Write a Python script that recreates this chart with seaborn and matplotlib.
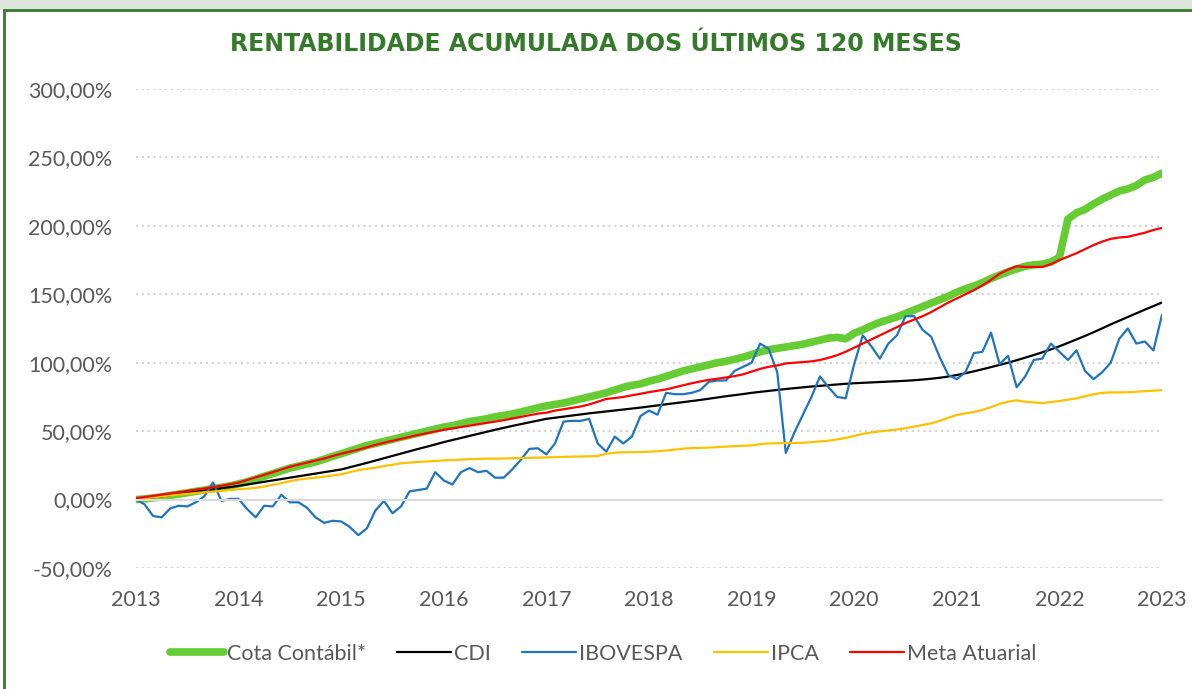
# Rentabilidade acumulada dos ultimos 120 meses

import numpy as np
import pandas as pd
import matplotlib
matplotlib.use("Agg")
import matplotlib.pyplot as plt
import seaborn as sns
from matplotlib.patches import Rectangle
from matplotlib.ticker import FuncFormatter

# --- dados (% acumulado, mensal jan/2013 .. jan/2023) ---
anos = [2013, 2014, 2015, 2016, 2017, 2018, 2019, 2020, 2021, 2022, 2023]
y_ticks = [-50, 0, 50, 100, 150, 200, 250, 300]

cota_contabil = [
    0, 0.5, 1.2, 2.0, 3.0, 4.0, 5.0, 6.0, 7.0, 8.0, 9.0, 10.0,
    11.5, 13.0, 15.0, 17.0, 19.0, 21.0, 23.0, 24.5, 26.0, 27.5, 29.5, 31.5,
    33.5, 35.5, 37.5, 39.5, 41.0, 42.5, 44.0, 45.5, 47.0, 48.5, 50.0, 51.5,
    53.0, 54.0, 55.5, 57.0, 58.0, 59.0, 60.5, 61.5, 62.5, 64.0, 65.5, 67.0,
    68.5, 69.5, 70.5, 72.0, 73.5, 75.0, 76.5, 78.0, 80.0, 82.0, 83.5, 84.5,
    86.5, 88.0, 90.0, 92.0, 94.0, 95.5, 97.0, 98.5, 100.0, 101.0, 102.5, 104.0,
    106.0, 108.0, 109.5, 110.5, 111.5, 112.5, 113.5, 115.0, 116.5, 118.0, 118.5, 117.5,
    121.5, 124.0, 127.0, 129.5, 131.5, 133.5, 136.0, 138.5, 141.0, 143.5, 146.0, 148.5,
    151.5, 154.0, 156.0, 158.5, 161.5, 164.0, 166.5, 168.5, 170.5, 171.5, 172.0, 173.5,
    177.0, 205.0, 209.5, 212.0, 216.0, 219.5, 222.5, 225.5, 227.0, 229.5, 233.5, 235.5,
    238.5,
]

cdi = [
    0, 0.8, 1.6, 2.4, 3.2, 4.1, 5.0, 5.8, 6.6, 7.4, 8.3, 9.1,
    10.0, 11.0, 12.0, 13.0, 14.0, 15.0, 16.0, 17.0, 18.0, 19.0, 20.0, 21.0,
    22.0, 23.6, 25.2, 26.8, 28.5, 30.2, 31.9, 33.6, 35.3, 37.0, 38.6, 40.3,
    42.0, 43.5, 45.0, 46.5, 48.0, 49.5, 51.0, 52.4, 53.8, 55.1, 56.4, 57.7,
    59.0, 59.8, 60.6, 61.4, 62.2, 63.0, 63.7, 64.4, 65.1, 65.8, 66.5, 67.2,
    68.0, 68.8, 69.6, 70.4, 71.2, 72.0, 72.8, 73.7, 74.6, 75.5, 76.3, 77.1,
    78.0, 78.7, 79.4, 80.1, 80.8, 81.4, 82.0, 82.6, 83.1, 83.6, 84.1, 84.6,
    85.0, 85.3, 85.6, 85.9, 86.2, 86.5, 86.8, 87.2, 87.7, 88.3, 89.0, 89.9,
    91.0, 92.3, 93.7, 95.2, 96.8, 98.4, 100.0, 101.8, 103.7, 105.6, 107.6, 109.7,
    112.0, 114.5, 117.0, 119.6, 122.3, 125.1, 128.0, 130.7, 133.4, 136.1, 138.8, 141.4,
    144.0,
]

ibovespa = [
    0, -3.5, -12, -13, -6.5, -4.5, -5, -2, 2.5, 12.5, -1, 0.5,
    0.5, -7, -13, -4.5, -5, 3.5, -2, -2, -6, -13, -17, -15.5,
    -16, -20, -26, -21, -8, -1, -10, -5, 6, 7, 8, 20,
    14, 11, 20, 23, 20, 21, 16, 16, 22, 29, 37, 37.5,
    33, 41, 57, 57.5, 57.5, 59, 41, 35, 46, 41, 46, 61,
    65, 62, 78, 77, 77, 78, 80, 86, 87, 87, 94, 97,
    100, 114, 110, 93, 34, 49, 62, 75, 90, 82, 75, 74,
    99, 120, 112, 103, 114, 120, 134, 134, 124, 119, 104, 91,
    88, 93, 107, 108, 122, 99, 105, 82, 90, 102, 103, 114,
    108, 102, 109, 94, 88, 93, 100, 117.5, 125, 114, 115.5, 109,
    135,
]

ipca = [
    0.0, 0.8, 1.6, 2.3, 3.0, 3.6, 4.2, 4.8, 5.3, 5.8, 6.3, 7.0,
    7.5, 8.0, 8.5, 9.5, 10.8, 12.0, 13.5, 14.6, 15.4, 16.0, 16.8, 17.6,
    18.5, 20.0, 21.5, 22.5, 23.3, 24.5, 25.5, 26.5, 27.0, 27.5, 27.8, 28.2,
    28.6, 28.9, 29.2, 29.5, 29.7, 29.9, 29.9, 30.0, 30.2, 30.4, 30.5, 30.6,
    30.8, 31.0, 31.2, 31.4, 31.5, 31.6, 31.8, 33.5, 34.3, 34.5, 34.6, 34.7,
    35.0, 35.3, 35.8, 36.5, 37.2, 37.6, 37.8, 38.0, 38.3, 38.7, 39.0, 39.3,
    39.6, 40.5, 41.0, 41.2, 41.3, 41.4, 41.5, 42.0, 42.5, 43.0, 44.0, 45.0,
    46.5, 48.0, 49.0, 49.8, 50.5, 51.2, 52.2, 53.3, 54.5, 55.7, 57.5, 59.8,
    61.8, 63.0, 64.0, 65.5, 67.5, 70.0, 71.5, 72.5, 71.5, 71.0, 70.5, 71.2,
    72.0, 73.0, 74.0, 75.5, 77.0, 78.0, 78.3, 78.3, 78.4, 78.8, 79.2, 79.6,
    80.0,
]

meta_atuarial = [
    1.0, 1.8, 2.7, 3.6, 4.5, 5.4, 6.3, 7.2, 8.1, 9.1, 10.1, 11.2,
    12.4, 14.3, 16.2, 18.1, 20.0, 22.0, 24.0, 25.5, 27.0, 28.5, 30.0, 31.8,
    33.5, 35.0, 36.5, 38.2, 40.0, 41.5, 43.0, 44.4, 45.8, 47.2, 48.5, 49.8,
    51.0, 52.0, 53.0, 54.0, 55.0, 56.0, 57.0, 58.0, 59.2, 60.4, 61.6, 62.8,
    63.5, 65.0, 66.0, 67.0, 68.0, 69.5, 71.5, 73.5, 74.2, 75.0, 76.2, 77.3,
    78.5, 79.5, 80.5, 82.0, 83.5, 85.0, 86.3, 87.5, 88.3, 89.2, 90.2, 91.5,
    93.5, 95.5, 97.0, 98.0, 99.5, 100.0, 100.5, 101.0, 102.0, 103.6, 105.5, 108.0,
    111.0, 114.0, 117.0, 120.0, 123.0, 126.0, 129.0, 131.5, 134.0, 137.0, 140.5, 144.0,
    147.0, 150.0, 153.0, 156.5, 160.5, 165.0, 168.0, 170.5, 170.0, 170.0, 170.0, 172.0,
    175.0, 177.5, 180.0, 183.0, 186.0, 188.5, 190.5, 191.5, 192.0, 193.5, 195.0, 197.0,
    198.5,
]

# eixo x em anos decimais (um ponto por mes)
meses = 2013 + np.arange(len(cdi)) / 12

df = pd.DataFrame({
    "data": meses,
    "Cota Contábil*": cota_contabil,
    "CDI": cdi,
    "IBOVESPA": ibovespa,
    "IPCA": ipca,
    "Meta Atuarial": meta_atuarial,
})
df_long = df.melt(id_vars="data", var_name="serie", value_name="valor")

cores = {
    "Cota Contábil*": "#66CC33",
    "CDI": "#000000",
    "IBOVESPA": "#1F74C0",
    "IPCA": "#FFC000",
    "Meta Atuarial": "#FF0000",
}
larguras = {"Cota Contábil*": 5.5, "CDI": 1.6, "IBOVESPA": 1.6, "IPCA": 1.6, "Meta Atuarial": 1.6}

sns.set_style("white")
plt.rcParams["font.family"] = ["Lato", "DejaVu Sans"]

fig = plt.figure(figsize=(11.92, 6.89), dpi=100)
ax = fig.add_axes([136 / 1192, 1 - 568 / 689, (1162 - 136) / 1192, (568 - 89) / 689])

for nome in cores:
    sns.lineplot(
        data=df_long[df_long["serie"] == nome], x="data", y="valor",
        ax=ax, color=cores[nome], linewidth=larguras[nome], label=nome,
        solid_capstyle="round",
    )

# --- eixos ---
ax.set_xlim(2013, 2023)
ax.set_ylim(-50, 300)
ax.set_xlabel("")
ax.set_ylabel("")
ax.set_yticks(y_ticks)
ax.yaxis.set_major_formatter(FuncFormatter(lambda v, _: f"{v:.2f}%".replace(".", ",")))
ax.tick_params(axis="y", length=0, pad=17, labelsize=15.5, labelcolor="#595959")
ax.yaxis.grid(True, color="#D0D0D0", linestyle=(0, (1, 2)), linewidth=1.4)

for s in ["top", "right", "left"]:
    ax.spines[s].set_visible(False)
# linha do zero com marcas dos anos
ax.spines["bottom"].set_position(("data", 0))
ax.spines["bottom"].set_color("#D9D9D9")
ax.spines["bottom"].set_linewidth(1.5)
ax.set_xticks(anos)
ax.tick_params(axis="x", direction="out", length=6, width=1.5, color="#D9D9D9", labelbottom=False)

# rotulos dos anos embaixo da area do grafico
sec = ax.secondary_xaxis("bottom")
sec.set_xticks(anos)
sec.set_xticklabels([str(a) for a in anos])
sec.tick_params(length=0, pad=16, labelsize=15.5, labelcolor="#595959")
sec.spines["bottom"].set_visible(False)

# --- titulo ---
fig.text(0.5, 1 - 44 / 689, "RENTABILIDADE ACUMULADA DOS ÚLTIMOS 120 MESES",
         ha="center", va="center", fontsize=17, fontweight="bold",
         color="#357A2A", family="DejaVu Sans")

# --- legenda ---
ax.legend(loc="center", bbox_to_anchor=(603 / 1192, 1 - 654 / 689),
          bbox_transform=fig.transFigure, ncol=5, frameon=False,
          fontsize=15.5, labelcolor="#595959", handlelength=2.5,
          handletextpad=0.15, columnspacing=1.45)

# moldura verde do quadro
fig.patches.append(Rectangle((0, 1 - 10 / 689), 1, 10 / 689, transform=fig.transFigure,
                             facecolor="#DCE6DA", edgecolor="none", zorder=0))
fig.patches.append(Rectangle((4 / 1192, -0.05), 1.1, 1.05 - 10 / 689, transform=fig.transFigure,
                             fill=False, edgecolor="#357A2A", linewidth=2, zorder=1))

fig.savefig("out.png", dpi=100)
